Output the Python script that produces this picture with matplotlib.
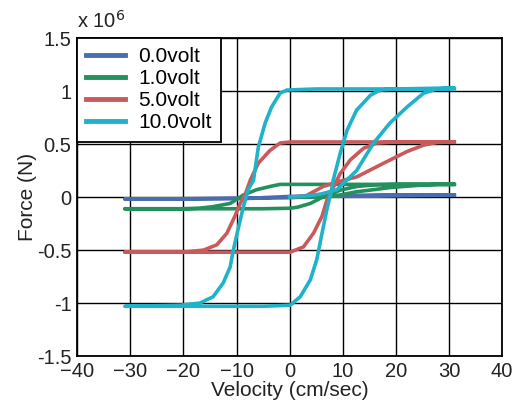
import matplotlib
matplotlib.use("Agg")
import matplotlib.pyplot as plt

plt.rcParams['font.family'] = ['Liberation Sans', 'DejaVu Sans']

# force values in units of 1e6 N, velocity in cm/sec
# each loop: start-up transient from origin, then decreasing branch, then increasing branch
labels = ['0.0volt', '1.0volt', '5.0volt', '10.0volt']
colors = ['#4a6db0', '#23905e', '#c85a5c', '#1fb2c9']

v_0 = [0, 8, 20, 31, 20, 8, 0, -8, -20, -31, -20, -8, 0, 8, 20, 31]
f_0 = [0, 0.012, 0.016, 0.018, 0.016, 0.012, -0.006, -0.012, -0.016, -0.018, -0.016, -0.012, 0.006, 0.012, 0.016, 0.018]

v_1 = [0, 3, 6.3, 9.5, 12.6, 15.8, 18.9, 24, 28, 31,
       20, 15.8, 12.6, 9.5, 7, 3.9, 1.5, 0.1, -5, -31,
       -20, -17, -14.4, -11.2, -9.3, -8.7, -6.2, -3.7, -1.8, 5, 31]
f_1 = [0, 0.0, 0.0, 0.02, 0.05, 0.07, 0.09, 0.11, 0.12, 0.12,
       0.12, 0.115, 0.1, 0.065, 0.02, -0.06, -0.095, -0.105, -0.11, -0.11,
       -0.11, -0.105, -0.09, -0.06, 0.0, 0.02, 0.07, 0.1, 0.12, 0.12, 0.12]

v_5 = [0, 3, 6.3, 9.5, 12.6, 17.7, 22.1, 25.2, 27.7, 31,
       20, 16.4, 13.9, 11.4, 9.5, 7, 6.1, 4.5, 2.6, 0.1, -5, -31,
       -20, -16.2, -13.7, -11.8, -10.3, -9.3, -8.4, -7.4, -5.9, -3.7, -1.8, 0.1, 5, 31]
f_5 = [0, 0.01, 0.1, 0.15, 0.19, 0.32, 0.43, 0.49, 0.515, 0.52,
       0.52, 0.51, 0.46, 0.35, 0.22, -0.03, -0.18, -0.34, -0.47, -0.52, -0.52, -0.52,
       -0.52, -0.50, -0.45, -0.34, -0.18, -0.06, 0.02, 0.16, 0.32, 0.44, 0.51, 0.52, 0.52, 0.52]

v_10 = [0, 3, 6, 8.9, 12.6, 15.8, 18.9, 22.1, 25.2, 27.7, 31,
        20, 17, 15.2, 12.6, 10.8, 9.5, 8.2, 7.9, 7, 6.1, 5.1, 3.9, 2, 0.1, -5, -31,
        -20.6, -16.9, -14.4, -12.5, -11.2, -10.6, -9.6, -8.7, -7.8, -6.8, -5.9, -4.6, -3.4, -1.8, -0.5, 5, 31]
f_10 = [0, 0.01, 0.03, 0.07, 0.25, 0.51, 0.70, 0.85, 0.98, 1.02, 1.03,
        1.02, 1.01, 0.96, 0.82, 0.63, 0.41, 0.16, 0.07, -0.12, -0.34, -0.59, -0.78, -0.94, -1.02, -1.03, -1.03,
        -1.02, -1.0, -0.94, -0.81, -0.66, -0.5, -0.28, -0.09, 0.07, 0.16, 0.47, 0.70, 0.85, 0.98, 1.01, 1.02, 1.02]

velocities = [v_0, v_1, v_5, v_10]
forces = [f_0, f_1, f_5, f_10]

fig = plt.figure(figsize=(5.14, 4.01), dpi=100)
ax = fig.add_axes([0.150, 0.112, 0.827, 0.793])

for v, f, c, lab in zip(velocities, forces, colors, labels):
    ax.plot(v, f, color=c, lw=2.6, label=lab, solid_joinstyle='round')

ax.set_xlim(-40, 40)
ax.set_ylim(-1.5, 1.5)
ax.set_xticks(range(-40, 41, 10))
ax.set_yticks([-1.5, -1, -0.5, 0, 0.5, 1, 1.5])
ax.set_yticklabels(['-1.5', '-1', '-0.5', '0', '0.5', '1', '1.5'])
ax.grid(True, color='black', lw=1.0)
ax.set_axisbelow(True)
ax.tick_params(direction='in', length=0, labelsize=14.5, colors='#222222')
ax.tick_params(axis='x', pad=4)
ax.tick_params(axis='y', pad=4)
for s in ax.spines.values():
    s.set_linewidth(1.3)

ax.set_xlabel('Velocity (cm/sec)', fontsize=15, labelpad=0, color='#222222')
ax.set_ylabel('Force (N)', fontsize=15, labelpad=0, color='#222222')
ax.text(0.0, 1.02, r'x 10$^{6}$', transform=ax.transAxes, fontsize=14.5,
        ha='left', va='bottom', color='#222222')

leg = ax.legend(loc='upper left', fontsize=15, borderaxespad=0, handlelength=1.85,
                handletextpad=0.65, labelspacing=0.14, fancybox=False,
                framealpha=1, edgecolor='black', borderpad=0.45)
leg.get_frame().set_linewidth(1.3)
for line in leg.get_lines():
    line.set_linewidth(3.5)

fig.savefig('out.png', dpi=100)
